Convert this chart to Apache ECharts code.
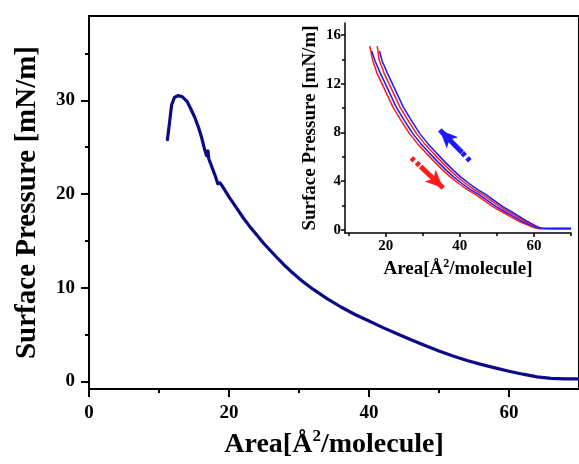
<!DOCTYPE html>
<html>
<head>
<meta charset="utf-8">
<script src="https://cdn.jsdelivr.net/npm/echarts@6/dist/echarts.min.js"></script>
<style>html,body{margin:0;padding:0;background:#fff;}#c{width:579px;height:464px;}</style>
</head>
<body>
<div id="c"></div>
<script>
// Main isotherm (Area, Surface pressure)
const mainCurve = [[11.2,25.8],[11.5,27.6],[11.8,29.5],[12.2,30.3],[12.7,30.5],[13.3,30.4],[14.0,29.9],[14.6,29.0],[15.1,28.2],[15.6,27.2],[16.1,26.0],[16.5,24.8],[16.8,24.1],[17.0,24.6],[17.1,23.8],[17.4,23.2],[17.7,22.6],[18.1,21.8],[18.4,21.1],[18.7,21.2],[19.0,20.9],[20.0,19.7],[21.0,18.6],[22.0,17.5],[23.0,16.5],[24.0,15.6],[25.0,14.7],[26.0,13.9],[27.0,13.1],[28.0,12.35],[29.0,11.65],[30.0,11.0],[31.0,10.4],[32.0,9.85],[34.0,8.85],[36.0,7.95],[38.0,7.15],[40.0,6.45],[42.0,5.75],[44.0,5.1],[46.0,4.45],[48.0,3.85],[50.0,3.25],[52.0,2.72],[54.0,2.25],[56.0,1.83],[58.0,1.45],[60.0,1.1],[62.0,0.78],[64.0,0.5],[66.0,0.34],[68.0,0.29],[70.0,0.28]];

// Inset: compression / expansion cycles
const insetRed1 = [[15.7,15.1],[16.4,14.0],[17.6,12.9],[19.6,11.6],[21.9,10.1],[24.1,9.0],[26.4,7.9],[28.5,7.1],[30.9,6.3],[33.1,5.6],[35.4,4.9],[37.4,4.35],[39.7,3.8],[42.0,3.3],[44.2,2.9],[46.6,2.4],[48.9,1.9],[51.2,1.5],[53.5,1.1],[55.9,0.7],[58.2,0.4],[59.8,0.2],[61.2,0.1],[65.0,0.08],[70.0,0.08]];
const insetBlue1 = [[16.2,14.7],[17.1,13.9],[18.5,12.9],[20.5,11.6],[22.8,10.1],[25.0,9.0],[27.3,7.9],[29.4,7.1],[31.8,6.3],[34.0,5.6],[36.3,4.9],[38.3,4.35],[40.6,3.8],[42.9,3.3],[45.1,2.9],[47.5,2.4],[49.8,1.9],[52.1,1.5],[54.4,1.1],[56.7,0.7],[58.9,0.4],[60.3,0.2],[61.4,0.1],[65.0,0.1],[70.0,0.1]];
const insetRed2 = [[17.7,15.1],[18.2,14.0],[19.5,12.9],[21.5,11.6],[23.8,10.1],[26.0,9.0],[28.3,7.9],[30.4,7.1],[32.8,6.3],[35.0,5.6],[37.3,4.9],[39.3,4.35],[41.6,3.8],[43.9,3.3],[46.1,2.9],[48.5,2.4],[50.8,1.9],[53.0,1.5],[55.3,1.1],[57.5,0.7],[59.5,0.4],[60.8,0.2],[61.8,0.12],[66.0,0.1],[70.0,0.1]];
const insetBlue2 = [[18.3,14.7],[19.0,13.9],[20.4,12.9],[22.4,11.6],[24.7,10.1],[26.9,9.0],[29.2,7.9],[31.3,7.1],[33.7,6.3],[35.9,5.6],[38.2,4.9],[40.2,4.35],[42.5,3.8],[44.8,3.3],[47.0,2.9],[49.3,2.4],[51.6,1.9],[53.8,1.5],[56.0,1.1],[58.1,0.7],[60.0,0.4],[61.2,0.2],[62.2,0.12],[66.0,0.1],[70.0,0.1]];

// Arrows in inset: [tail, solid start, tip]
const blueArrow = [[42.7,5.67],[40.6,6.35],[34.6,8.2]];
const redArrow = [[26.9,5.9],[29.4,5.2],[35.5,3.43]];

// Tick values
const mainXMajor = [0,20,40,60];
const mainXMinor = [10,30,50];
const mainYMajor = [0,10,20,30];
const mainYMinor = [5,15,25,35];
const insetXMajor = [20,40,60];
const insetXMinor = [10,30,50,70];
const insetYMajor = [0,4,8,12,16];
const insetYMinor = [2,6,10,14];

const FONT = 'Liberation Serif';
const chart = echarts.init(document.getElementById('c'), null, {renderer:'canvas'});

function axisBase(min, max, major, lbl, tickLen, lineW, fs, margin) {
  return {
    type:'value', min:min, max:max,
    axisLine:{show:true, onZero:false, lineStyle:{color:'#000', width:lineW}},
    axisTick:{show:true, customValues:major, length:tickLen, lineStyle:{color:'#000', width:lineW}},
    axisLabel:{show:lbl, customValues:major, fontFamily:FONT, fontWeight:'bold', fontSize:fs, color:'#000', margin:margin},
    splitLine:{show:false}
  };
}
function axisMinor(min, max, minor, tickLen, lineW) {
  return {
    type:'value', min:min, max:max,
    axisLine:{show:false, onZero:false},
    axisTick:{show:true, customValues:minor, length:tickLen, lineStyle:{color:'#000', width:lineW}},
    axisLabel:{show:false},
    splitLine:{show:false}
  };
}

const mxA = axisBase(0, 70, mainXMajor, true, 8, 2, 19, 15);
mxA.gridIndex = 0; mxA.position='bottom';
mxA.name = '{a|Area[Å}{s|2}{a|/molecule]}';
mxA.nameLocation = 'middle'; mxA.nameGap = 39;
mxA.nameTextStyle = {rich:{
  a:{fontFamily:FONT, fontWeight:'bold', fontSize:28, color:'#000', lineHeight:34},
  s:{fontFamily:FONT, fontWeight:'bold', fontSize:17, color:'#000', verticalAlign:'top', lineHeight:20}
}};
const mxB = axisMinor(0, 70, mainXMinor, 4, 2); mxB.gridIndex = 0; mxB.position='bottom';

const myA = axisBase(-0.8, 39, mainYMajor, true, 8, 2, 19, 14);
myA.gridIndex = 0; myA.position='left';
myA.name = 'Surface Pressure [mN/m]'; myA.nameLocation='middle'; myA.nameGap = 47;
myA.nameTextStyle = {fontFamily:FONT, fontWeight:'bold', fontSize:29, color:'#000'};
const myB = axisMinor(-0.8, 39, mainYMinor, 4, 2); myB.gridIndex = 0; myB.position='left';

const ixA = axisBase(9, 70, insetXMajor, true, 4, 1.5, 15, 6);
ixA.gridIndex = 1; ixA.position='bottom';
ixA.name = '{a|Area[Å}{s|2}{a|/molecule]}';
ixA.nameLocation='middle'; ixA.nameGap = 25;
ixA.nameTextStyle = {rich:{
  a:{fontFamily:FONT, fontWeight:'bold', fontSize:19, color:'#000', lineHeight:23},
  s:{fontFamily:FONT, fontWeight:'bold', fontSize:12, color:'#000', verticalAlign:'top', lineHeight:12}
}};
const ixB = axisMinor(9, 70, insetXMinor, 3, 1.5); ixB.gridIndex = 1; ixB.position='bottom';

const iyA = axisBase(-0.27, 17, insetYMajor, true, 4, 1.5, 15, 4);
iyA.gridIndex = 1; iyA.position='left';
iyA.name = 'Surface Pressure [mN/m]'; iyA.nameLocation='middle'; iyA.nameGap = 25;
iyA.nameTextStyle = {fontFamily:FONT, fontWeight:'bold', fontSize:19, color:'#000'};
const iyB = axisMinor(-0.27, 17, insetYMinor, 3, 1.5); iyB.gridIndex = 1; iyB.position='left';

function arrowLines(pts, color) {
  return {
    silent:true, animation:false, symbol:['none','none'], label:{show:false},
    emphasis:{disabled:true},
    data:[
      [{coord:pts[0], lineStyle:{color:color, width:5, type:[4,3]}}, {coord:pts[1]}],
      [{coord:pts[1], lineStyle:{color:color, width:5, type:'solid'}}, {coord:pts[2], symbol:'arrow', symbolSize:[12,18]}]
    ]
  };
}

function insetSeries(data, color, ml) {
  const s = {type:'line', xAxisIndex:2, yAxisIndex:2, data:data, showSymbol:false, symbol:'none',
    lineStyle:{color:color, width:1.5, join:'round'}, smooth:false, animation:false, silent:true, z:3};
  if (ml) s.markLine = ml;
  return s;
}

chart.setOption({
  backgroundColor:'#fff',
  animation:false,
  grid:[
    {left:89, top:16, right:-10, bottom:75, show:true, borderColor:'#000', borderWidth:2, backgroundColor:'transparent', containLabel:false},
    {left:345, top:23, right:8, bottom:231, containLabel:false}
  ],
  xAxis:[mxA, mxB, ixA, ixB],
  yAxis:[myA, myB, iyA, iyB],
  series:[
    {type:'line', xAxisIndex:0, yAxisIndex:0, data:mainCurve, showSymbol:false, symbol:'none',
     lineStyle:{color:'#0b0b85', width:3.2, join:'round', cap:'round'}, smooth:false, animation:false, silent:true},
    insetSeries(insetRed1, '#ff1a1a', arrowLines(redArrow, '#ff1a1a')),
    insetSeries(insetBlue1, '#1a1aff', arrowLines(blueArrow, '#1a1aff')),
    insetSeries(insetRed2, '#ff1a1a'),
    insetSeries(insetBlue2, '#1a1aff')
  ]
});
</script>
</body>
</html>
